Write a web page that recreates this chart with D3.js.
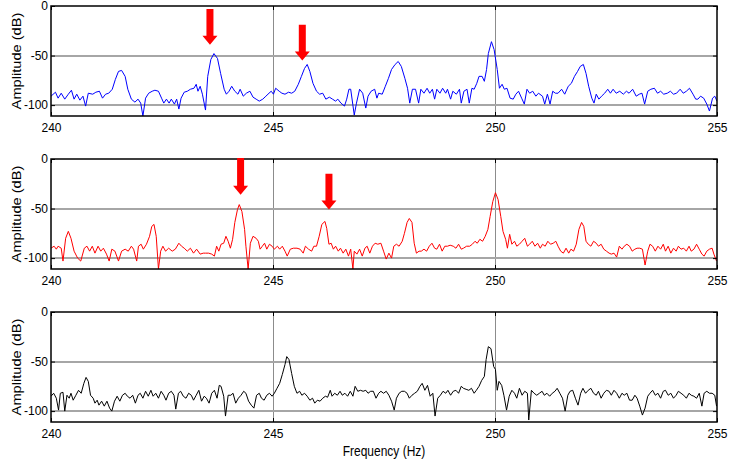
<!DOCTYPE html>
<html>
<head>
<meta charset="utf-8">
<script src="https://cdnjs.cloudflare.com/ajax/libs/d3/7.8.5/d3.min.js"></script>
<style>
  body { margin: 0; background: #fff; }
  svg { display: block; font-family: "Liberation Sans", Arial, sans-serif; }
  .tick text { font-size: 12px; fill: #000; }
  .grid line { shape-rendering: crispEdges; }
</style>
</head>
<body>
<div id="graph"></div>
<script>
// frequency axis ticks and amplitude ticks
var xTicks = [240, 245, 250, 255];
var yTicks = [0, -50, -100];

// top panel (blue) - [Hz, dB]
var blueSeries = [
  [240.00,-91],[240.10,-87],[240.16,-93],[240.23,-88],[240.31,-94],[240.39,-89],[240.46,-85],[240.52,-94],
  [240.58,-89],[240.65,-95],[240.72,-91],[240.78,-101],[240.84,-88],[240.94,-89],[241.01,-87],[241.09,-86],
  [241.16,-93],[241.23,-89],[241.30,-88],[241.38,-84],[241.45,-74],[241.52,-66],[241.59,-65],[241.67,-71],
  [241.73,-84],[241.81,-94],[241.89,-97],[241.96,-94],[242.02,-98],[242.07,-111],[242.13,-93],[242.20,-88],
  [242.28,-86],[242.34,-85],[242.42,-86],[242.49,-93],[242.54,-98],[242.60,-94],[242.66,-98],[242.71,-94],
  [242.78,-99],[242.83,-94],[242.88,-104],[242.93,-93],[243.00,-87],[243.07,-86],[243.14,-84],[243.22,-83],
  [243.27,-79],[243.31,-86],[243.36,-81],[243.41,-89],[243.48,-105],[243.53,-71],[243.60,-54],[243.67,-48],
  [243.75,-53],[243.82,-68],[243.90,-84],[243.95,-89],[244.01,-86],[244.07,-81],[244.14,-86],[244.21,-89],
  [244.26,-84],[244.33,-91],[244.40,-88],[244.48,-86],[244.55,-92],[244.62,-94],[244.69,-96],[244.77,-94],
  [244.84,-91],[244.91,-88],[244.96,-86],[245.01,-89],[245.06,-83],[245.14,-86],[245.20,-88],[245.27,-89],
  [245.35,-87],[245.42,-88],[245.49,-86],[245.57,-79],[245.64,-71],[245.71,-63],[245.77,-59],[245.83,-66],
  [245.90,-78],[245.98,-86],[246.05,-89],[246.12,-88],[246.19,-94],[246.27,-92],[246.34,-94],[246.41,-96],
  [246.46,-94],[246.53,-98],[246.61,-101],[246.66,-94],[246.71,-84],[246.75,-84],[246.83,-110],[246.88,-98],
  [246.95,-84],[247.02,-88],[247.09,-103],[247.14,-91],[247.21,-86],[247.29,-84],[247.34,-93],[247.38,-88],
  [247.46,-89],[247.53,-81],[247.60,-73],[247.67,-64],[247.75,-59],[247.82,-56],[247.89,-61],[247.97,-73],
  [248.03,-83],[248.08,-98],[248.14,-84],[248.21,-84],[248.28,-98],[248.33,-84],[248.40,-88],[248.47,-83],
  [248.53,-88],[248.59,-84],[248.64,-94],[248.69,-84],[248.76,-88],[248.82,-83],[248.89,-88],[248.93,-84],
  [249.00,-94],[249.05,-86],[249.13,-89],[249.20,-84],[249.24,-98],[249.30,-86],[249.37,-84],[249.42,-98],
  [249.48,-83],[249.53,-84],[249.59,-78],[249.64,-71],[249.71,-71],[249.76,-76],[249.81,-64],[249.85,-48],
  [249.92,-36],[249.98,-44],[250.05,-64],[250.10,-83],[250.16,-79],[250.21,-84],[250.27,-83],[250.34,-93],
  [250.41,-94],[250.47,-89],[250.53,-86],[250.60,-93],[250.66,-99],[250.72,-84],[250.78,-88],[250.85,-86],
  [250.92,-91],[250.98,-88],[251.07,-91],[251.12,-99],[251.18,-89],[251.24,-99],[251.30,-86],[251.36,-88],
  [251.42,-88],[251.50,-84],[251.57,-89],[251.65,-81],[251.72,-78],[251.79,-71],[251.86,-66],[251.92,-61],
  [251.99,-59],[252.05,-68],[252.11,-81],[252.18,-93],[252.23,-98],[252.28,-89],[252.34,-94],[252.40,-91],
  [252.47,-88],[252.54,-84],[252.60,-88],[252.66,-84],[252.73,-88],[252.81,-86],[252.89,-89],[252.96,-86],
  [253.02,-88],[253.10,-84],[253.18,-91],[253.25,-89],[253.31,-88],[253.37,-99],[253.44,-86],[253.51,-84],
  [253.59,-83],[253.66,-88],[253.73,-86],[253.80,-89],[253.88,-88],[253.95,-86],[254.02,-89],[254.09,-88],
  [254.17,-84],[254.24,-88],[254.31,-86],[254.38,-83],[254.46,-89],[254.52,-94],[254.57,-94],[254.63,-91],
  [254.70,-93],[254.77,-99],[254.83,-106],[254.90,-93],[254.95,-91],[255.00,-96]
];

// middle panel (red)
var redSeries = [
  [240.00,-90],[240.07,-88],[240.12,-91],[240.16,-88],[240.23,-90],[240.27,-103],[240.33,-80],[240.39,-73],
  [240.45,-80],[240.52,-93],[240.60,-100],[240.67,-103],[240.75,-90],[240.81,-88],[240.87,-93],[240.93,-88],
  [240.99,-95],[241.06,-88],[241.12,-93],[241.18,-90],[241.25,-96],[241.31,-103],[241.37,-91],[241.44,-93],
  [241.52,-103],[241.59,-93],[241.67,-91],[241.74,-93],[241.81,-88],[241.86,-91],[241.93,-103],[241.97,-88],
  [242.03,-86],[242.08,-91],[242.15,-86],[242.22,-78],[242.27,-68],[242.32,-66],[242.37,-78],[242.42,-111],
  [242.47,-93],[242.52,-88],[242.58,-93],[242.65,-90],[242.73,-93],[242.80,-91],[242.88,-85],[242.94,-88],
  [243.00,-90],[243.07,-93],[243.14,-90],[243.21,-95],[243.28,-91],[243.36,-96],[243.43,-95],[243.48,-95],
  [243.55,-95],[243.62,-96],[243.68,-98],[243.73,-88],[243.78,-93],[243.83,-86],[243.89,-85],[243.94,-78],
  [243.99,-83],[244.04,-90],[244.09,-81],[244.14,-64],[244.20,-51],[244.24,-46],[244.30,-53],[244.36,-71],
  [244.39,-88],[244.44,-111],[244.49,-85],[244.55,-78],[244.62,-80],[244.67,-83],[244.71,-91],[244.76,-88],
  [244.81,-85],[244.86,-91],[244.92,-86],[244.98,-88],[245.03,-91],[245.10,-88],[245.15,-91],[245.21,-88],
  [245.27,-93],[245.32,-98],[245.39,-91],[245.46,-90],[245.54,-90],[245.61,-91],[245.68,-95],[245.73,-88],
  [245.80,-91],[245.87,-93],[245.92,-88],[245.98,-88],[246.04,-78],[246.10,-66],[246.17,-63],[246.21,-70],
  [246.26,-86],[246.31,-85],[246.36,-91],[246.41,-88],[246.47,-93],[246.52,-90],[246.58,-95],[246.64,-91],
  [246.70,-98],[246.75,-91],[246.80,-111],[246.83,-93],[246.89,-96],[246.95,-91],[247.01,-98],[247.07,-90],
  [247.12,-88],[247.18,-95],[247.24,-88],[247.30,-85],[247.36,-86],[247.43,-85],[247.49,-93],[247.55,-101],
  [247.61,-95],[247.67,-100],[247.72,-88],[247.78,-86],[247.84,-88],[247.91,-83],[247.96,-75],[248.02,-64],
  [248.07,-60],[248.13,-64],[248.18,-85],[248.23,-95],[248.29,-93],[248.34,-93],[248.40,-91],[248.46,-93],
  [248.52,-88],[248.58,-85],[248.64,-90],[248.69,-91],[248.75,-86],[248.81,-93],[248.87,-88],[248.93,-88],
  [248.99,-87],[249.06,-88],[249.12,-90],[249.18,-86],[249.24,-91],[249.29,-90],[249.36,-88],[249.43,-88],
  [249.49,-86],[249.55,-83],[249.60,-85],[249.66,-81],[249.72,-83],[249.78,-78],[249.84,-71],[249.89,-58],
  [249.95,-43],[250.01,-34],[250.07,-41],[250.13,-58],[250.18,-73],[250.24,-81],[250.28,-90],[250.33,-76],
  [250.38,-86],[250.44,-83],[250.49,-88],[250.55,-86],[250.61,-83],[250.67,-80],[250.73,-88],[250.78,-86],
  [250.84,-83],[250.90,-88],[250.96,-85],[251.02,-90],[251.07,-86],[251.13,-88],[251.19,-83],[251.25,-86],
  [251.31,-85],[251.37,-83],[251.42,-88],[251.48,-93],[251.54,-95],[251.60,-90],[251.66,-95],[251.71,-91],
  [251.77,-93],[251.83,-86],[251.89,-71],[251.95,-64],[252.00,-68],[252.05,-83],[252.10,-86],[252.16,-88],
  [252.22,-83],[252.28,-85],[252.33,-88],[252.39,-86],[252.45,-91],[252.51,-93],[252.57,-95],[252.62,-96],
  [252.68,-95],[252.74,-99],[252.80,-88],[252.86,-91],[252.91,-88],[252.97,-86],[253.03,-88],[253.09,-93],
  [253.15,-91],[253.20,-90],[253.26,-90],[253.32,-91],[253.38,-107],[253.44,-93],[253.49,-86],[253.55,-88],
  [253.61,-93],[253.67,-88],[253.73,-91],[253.79,-86],[253.84,-93],[253.90,-88],[253.96,-95],[254.02,-90],
  [254.08,-93],[254.13,-88],[254.19,-91],[254.25,-90],[254.31,-93],[254.37,-88],[254.42,-93],[254.48,-91],
  [254.54,-86],[254.60,-91],[254.66,-96],[254.71,-98],[254.77,-93],[254.83,-91],[254.89,-90],[254.93,-96],
  [254.99,-103]
];

// bottom panel (black)
var blackSeries = [
  [240.00,-85],[240.06,-82],[240.12,-87],[240.17,-99],[240.21,-82],[240.27,-81],[240.31,-100],[240.36,-84],
  [240.41,-87],[240.45,-82],[240.50,-89],[240.56,-84],[240.62,-79],[240.68,-82],[240.74,-72],[240.79,-66],
  [240.84,-70],[240.89,-84],[240.95,-87],[240.99,-92],[241.04,-89],[241.08,-94],[241.14,-90],[241.20,-95],
  [241.26,-90],[241.32,-97],[241.37,-100],[241.43,-90],[241.49,-85],[241.55,-90],[241.61,-84],[241.67,-82],
  [241.72,-85],[241.78,-87],[241.84,-84],[241.90,-92],[241.96,-84],[242.01,-82],[242.07,-87],[242.13,-80],
  [242.19,-85],[242.25,-79],[242.30,-85],[242.36,-82],[242.42,-87],[242.48,-80],[242.54,-84],[242.59,-89],
  [242.65,-82],[242.71,-80],[242.77,-84],[242.81,-98],[242.87,-82],[242.92,-80],[242.98,-85],[243.04,-87],
  [243.10,-82],[243.16,-84],[243.21,-89],[243.27,-84],[243.33,-79],[243.39,-90],[243.45,-85],[243.50,-87],
  [243.56,-92],[243.62,-82],[243.68,-79],[243.74,-87],[243.79,-74],[243.83,-75],[243.89,-85],[243.93,-105],
  [243.99,-84],[244.05,-84],[244.10,-82],[244.16,-92],[244.22,-87],[244.28,-84],[244.34,-80],[244.39,-82],
  [244.45,-90],[244.51,-94],[244.57,-97],[244.63,-84],[244.69,-82],[244.74,-87],[244.80,-89],[244.86,-84],
  [244.92,-82],[244.98,-85],[245.03,-82],[245.09,-77],[245.15,-72],[245.21,-63],[245.27,-53],[245.31,-45],
  [245.36,-48],[245.42,-62],[245.48,-75],[245.54,-82],[245.60,-80],[245.65,-84],[245.71,-82],[245.77,-85],
  [245.83,-89],[245.89,-87],[245.94,-92],[246.00,-89],[246.06,-90],[246.12,-87],[246.18,-85],[246.23,-86],
  [246.29,-79],[246.33,-85],[246.39,-82],[246.45,-84],[246.51,-80],[246.56,-84],[246.62,-82],[246.68,-85],
  [246.74,-80],[246.80,-85],[246.85,-75],[246.91,-80],[246.97,-79],[247.03,-80],[247.09,-79],[247.14,-82],
  [247.20,-80],[247.26,-80],[247.32,-87],[247.38,-82],[247.43,-80],[247.49,-82],[247.55,-80],[247.61,-84],
  [247.67,-90],[247.73,-99],[247.78,-87],[247.84,-82],[247.90,-80],[247.96,-80],[248.02,-82],[248.07,-87],
  [248.13,-84],[248.19,-82],[248.25,-80],[248.31,-75],[248.36,-72],[248.42,-79],[248.48,-74],[248.54,-85],
  [248.60,-82],[248.65,-105],[248.71,-87],[248.77,-84],[248.83,-80],[248.89,-82],[248.94,-79],[249.00,-84],
  [249.06,-80],[249.12,-79],[249.18,-82],[249.24,-75],[249.29,-77],[249.35,-78],[249.41,-79],[249.47,-77],
  [249.53,-82],[249.58,-79],[249.64,-75],[249.70,-69],[249.76,-65],[249.80,-48],[249.85,-35],[249.91,-37],
  [249.97,-55],[250.01,-58],[250.05,-79],[250.09,-70],[250.15,-74],[250.20,-84],[250.26,-99],[250.32,-85],
  [250.38,-79],[250.44,-82],[250.49,-87],[250.55,-77],[250.61,-84],[250.67,-80],[250.73,-82],[250.76,-109],
  [250.82,-79],[250.88,-82],[250.94,-84],[251.00,-82],[251.06,-80],[251.11,-84],[251.17,-82],[251.23,-85],
  [251.29,-82],[251.35,-80],[251.40,-77],[251.46,-82],[251.52,-87],[251.58,-100],[251.64,-84],[251.69,-80],
  [251.75,-79],[251.81,-87],[251.87,-94],[251.93,-82],[251.98,-77],[252.04,-82],[252.10,-79],[252.16,-77],
  [252.22,-82],[252.28,-84],[252.33,-80],[252.39,-87],[252.45,-82],[252.51,-79],[252.57,-80],[252.62,-84],
  [252.68,-79],[252.74,-82],[252.80,-87],[252.86,-82],[252.91,-84],[252.97,-82],[253.03,-89],[253.09,-89],
  [253.15,-84],[253.20,-87],[253.26,-95],[253.32,-104],[253.38,-97],[253.44,-85],[253.49,-82],[253.55,-79],
  [253.61,-84],[253.67,-82],[253.73,-87],[253.79,-80],[253.84,-79],[253.90,-84],[253.96,-82],[254.02,-87],
  [254.08,-84],[254.13,-80],[254.19,-82],[254.25,-84],[254.31,-87],[254.37,-82],[254.42,-84],[254.48,-85],
  [254.54,-87],[254.60,-82],[254.66,-95],[254.71,-82],[254.77,-80],[254.83,-82],[254.89,-82],[254.95,-84],
  [254.99,-95]
];

// red arrows: [Hz, top dB, tip dB]
var blueArrows = [[243.58, -3, -39], [245.66, -19, -55]];
var redArrows = [[244.27, 1, -36], [246.26, -15, -51]];
var blackArrows = [];

var width = 743,
    height = 464,
    left = 51,
    right = 717,
    plotHeight = 110,
    tops = [6, 159, 312];

var svg = d3.select('#graph')
    .append('svg')
    .attr('width', width)
    .attr('height', height);

var x = d3.scaleLinear()
    .domain([240, 255])
    .range([left, right]);

var panels = [
    { data: blueSeries, color: '#0000ff', arrows: blueArrows },
    { data: redSeries, color: '#ff0000', arrows: redArrows },
    { data: blackSeries, color: '#000000', arrows: blackArrows }
];

panels.forEach(function(p, i) {
    var top = tops[i];
    var y = d3.scaleLinear()
        .domain([-111, 0])
        .range([top + plotHeight, top]);

    var g = svg.append('g');

    svg.append('clipPath')
        .attr('id', 'clip' + i)
        .append('rect')
        .attr('x', left)
        .attr('y', top)
        .attr('width', right - left)
        .attr('height', plotHeight);

    // grid lines
    var grid = g.append('g').attr('class', 'grid');
    grid.selectAll('.vgrid')
        .data(xTicks.slice(1, -1))
        .enter()
        .append('line')
        .attr('x1', function(d) { return Math.round(x(d)) + 0.5; })
        .attr('x2', function(d) { return Math.round(x(d)) + 0.5; })
        .attr('y1', top)
        .attr('y2', top + plotHeight)
        .attr('stroke', '#8c8c8c')
        .attr('stroke-width', 1);
    grid.selectAll('.hgrid')
        .data(yTicks.slice(1))
        .enter()
        .append('line')
        .attr('x1', left)
        .attr('x2', right)
        .attr('y1', function(d) { return Math.round(y(d)); })
        .attr('y2', function(d) { return Math.round(y(d)); })
        .attr('stroke', '#a6a6a6')
        .attr('stroke-width', 2);

    // the spectrum
    var line = d3.line()
        .x(function(d) { return x(d[0]); })
        .y(function(d) { return y(d[1]); });

    g.append('path')
        .datum(p.data)
        .attr('clip-path', 'url(#clip' + i + ')')
        .attr('fill', 'none')
        .attr('stroke', p.color)
        .attr('stroke-width', 1)
        .attr('stroke-linejoin', 'round')
        .attr('d', line);

    // axes, ticks pointing inwards
    var fmt = function(d) { return String(d); };

    g.append('g')
        .attr('transform', 'translate(0,' + (top + plotHeight) + ')')
        .call(d3.axisBottom(x).tickValues(xTicks).tickSize(-4).tickPadding(7).tickFormat(fmt))
        .call(function(a) { a.select('.domain').remove(); });

    g.append('g')
        .attr('transform', 'translate(0,' + top + ')')
        .call(d3.axisTop(x).tickValues(xTicks).tickSize(-4).tickFormat(''))
        .call(function(a) { a.select('.domain').remove(); });

    g.append('g')
        .attr('transform', 'translate(' + left + ',0)')
        .call(d3.axisLeft(y).tickValues(yTicks).tickSize(-4).tickPadding(3).tickFormat(fmt))
        .call(function(a) { a.select('.domain').remove(); });

    g.append('g')
        .attr('transform', 'translate(' + right + ',0)')
        .call(d3.axisRight(y).tickValues(yTicks).tickSize(-4).tickFormat(''))
        .call(function(a) { a.select('.domain').remove(); });

    g.selectAll('.tick line').attr('stroke', '#000');
    g.selectAll('.tick text').attr('font-size', 12).attr('font-family', '"Liberation Sans", Arial, sans-serif');

    // frame
    g.append('rect')
        .attr('x', left)
        .attr('y', top)
        .attr('width', right - left)
        .attr('height', plotHeight)
        .attr('fill', 'none')
        .attr('stroke', '#000')
        .attr('stroke-width', 1.5);

    g.append('text')
        .attr('transform', 'translate(17,' + (top + plotHeight / 2) + ') rotate(-90) scale(1.22,1)')
        .attr('text-anchor', 'middle')
        .attr('dy', '0.35em')
        .attr('font-size', 12)
        .text('Amplitude (dB)');

    // red block arrows
    g.selectAll('.arrow')
        .data(p.arrows)
        .enter()
        .append('path')
        .attr('class', 'arrow')
        .attr('fill', '#ff0000')
        .attr('d', function(d) {
            var cx = x(d[0]), y0 = y(d[1]), y1 = y(d[2]), yh = y1 - 9;
            return 'M' + (cx - 3.5) + ',' + y0 + 'L' + (cx + 3.5) + ',' + y0 +
                'L' + (cx + 3.5) + ',' + yh + 'L' + (cx + 7.5) + ',' + yh +
                'L' + cx + ',' + y1 + 'L' + (cx - 7.5) + ',' + yh +
                'L' + (cx - 3.5) + ',' + yh + 'Z';
        });
});

svg.append('text')
    .attr('x', (left + right) / 2)
    .attr('y', 456)
    .attr('text-anchor', 'middle')
    .attr('font-size', 12)
    .attr('transform', 'translate(0,' + (-456 * 0.2) + ') scale(1,1.2)')
    .text('Frequency (Hz)');
</script>
</body>
</html>
